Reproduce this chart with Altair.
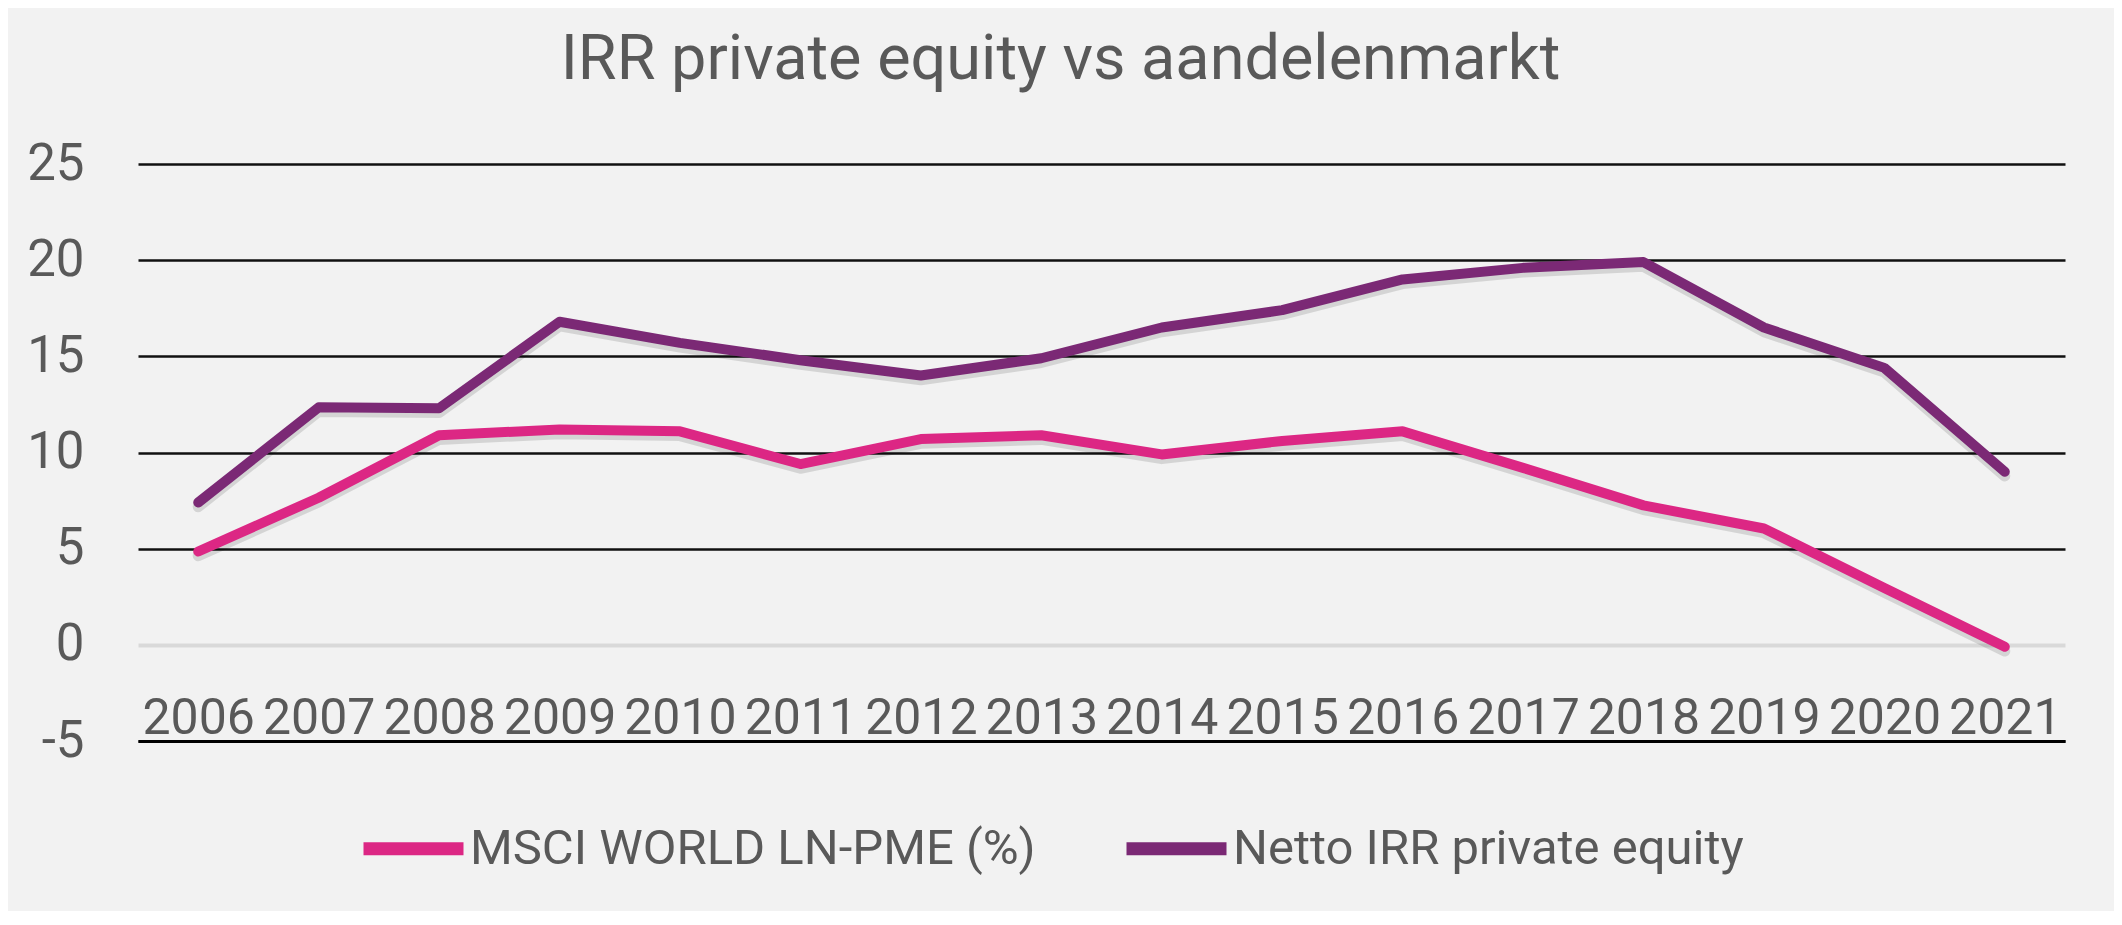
import altair as alt
import pandas as pd

years = [str(y) for y in range(2006, 2022)]
msci = [4.85, 7.65, 10.9, 11.2, 11.1, 9.4, 10.7, 10.9, 9.9, 10.6, 11.1, 9.2, 7.25, 6.05, 2.95, -0.1]
netto = [7.4, 12.35, 12.3, 16.8, 15.7, 14.8, 14.0, 14.9, 16.5, 17.4, 19.0, 19.6, 19.9, 16.5, 14.4, 9.0]
series_names = ["MSCI WORLD LN-PME (%)", "Netto IRR private equity"]
series_colors = ["#DC2784", "#7B2975"]
y_ticks = [-5, 0, 5, 10, 15, 20, 25]

rows = []
for name, vals in zip(series_names, [msci, netto]):
    for yr, v in zip(years, vals):
        rows.append({"year": yr, "value": v, "series": name})
df = pd.DataFrame(rows)

FONT = "Roboto"
GREY = "#595959"

x = alt.X(
    "year:O",
    sort=years,
    title=None,
    axis=alt.Axis(
        labelAngle=0,
        labelFont=FONT,
        labelFontSize=50,
        labelColor=GREY,
        labelBaseline="alphabetic",
        labelPadding=-8,
        ticks=False,
        tickSize=0,
        domainColor="#000000",
        domainWidth=3,
        grid=False,
    ),
)
y_axis = alt.Axis(
    values=y_ticks,
    labelExpr="replace(datum.label, '\u2212', '-')",
    labelFont=FONT,
    labelFontSize=51,
    labelColor=GREY,
    labelPadding=54,
    ticks=False,
    tickSize=0,
    domain=False,
    grid=True,
    gridColor={"condition": {"test": "datum.value === 0", "value": "#d9d9d9"}, "value": "#111111"},
    gridWidth={"condition": {"test": "datum.value === 0", "value": 4}, "value": 2.5},
)
y_scale = alt.Scale(domain=[-5, 25], nice=False, zero=False)

shadow = (
    alt.Chart(df)
    .transform_calculate(ys="datum.value - 0.22")
    .mark_line(strokeWidth=11, strokeCap="round", strokeJoin="round", color="#000000", opacity=0.12)
    .encode(x=x, y=alt.Y("ys:Q", title=None, scale=y_scale, axis=y_axis), detail="series:N")
)

lines = (
    alt.Chart(df)
    .mark_line(strokeWidth=10, strokeCap="round", strokeJoin="round")
    .encode(
        x=x,
        y=alt.Y("value:Q", title=None, scale=y_scale, axis=y_axis),
        color=alt.Color(
            "series:N",
            scale=alt.Scale(domain=series_names, range=series_colors),
            legend=alt.Legend(
                title=None,
                orient="none",
                direction="horizontal",
                legendX=219,
                legendY=628,
                symbolType="stroke",
                symbolSize=10000,
                symbolStrokeWidth=13,
                labelFont=FONT,
                labelFontSize=49,
                labelColor=GREY,
                labelLimit=1000,
                labelOffset=0,
                columnPadding=64,
            ),
        ),
    )
)

chart = (
    alt.layer(shadow, lines)
    .properties(
        width=1927,
        height=577,
        autosize=alt.AutoSizeParams(type="none"),
        padding={"left": 130, "top": 156, "right": 49, "bottom": 170},
        background="#f2f2f2",
        title=alt.TitleParams(
            "IRR private equity vs aandelenmarkt",
            font=FONT,
            fontSize=63,
            fontWeight="normal",
            color=GREY,
            anchor="middle",
            dx=-41,
            dy=22,
            baseline="alphabetic",
            offset=18,
        ),
    )
    .configure_view(stroke=None)
)

chart.save("out.html", embed_options={"renderer": "svg", "actions": False})
